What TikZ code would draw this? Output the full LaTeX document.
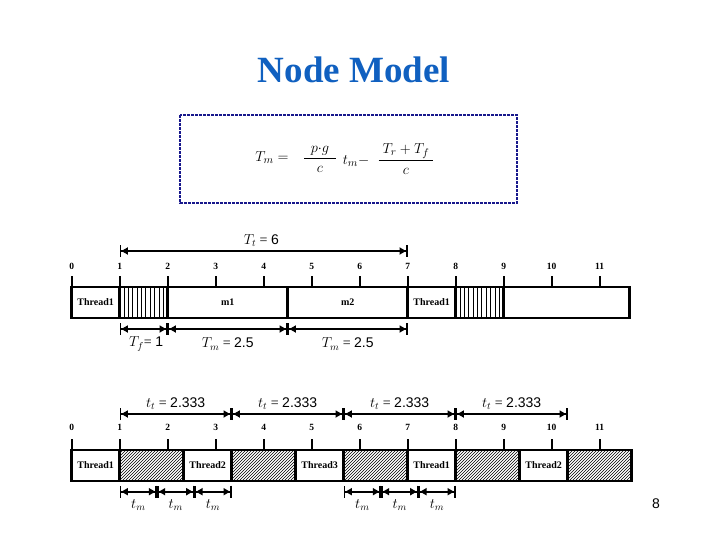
\documentclass[tikz,border=0pt]{standalone}
\usepackage{amsmath}
\usepackage{fontspec}
\setmainfont{Liberation Serif}
\newfontfamily\numfont{Liberation Sans}
\usetikzlibrary{arrows.meta,calc,patterns}

\definecolor{titleblue}{RGB}{16,96,192}
\definecolor{boxnavy}{RGB}{24,24,140}

\tikzset{
  barline/.style={line width=2.9pt},
  tickline/.style={line width=1.9pt},
  ticklabel/.style={font=\fontsize{9.5}{9.5}\selectfont\bfseries},
  celllabel/.style={font=\fontsize{10}{10}\selectfont\bfseries},
  dimline/.style={line width=1.7pt,
    {Bar[width=12pt]Stealth[length=6.5pt,width=7pt,inset=0pt]}-{Stealth[length=6.5pt,width=7pt,inset=0pt]Bar[width=12pt]}},
  dimlabel/.style={font=\fontsize{14}{16}\selectfont, inner sep=1pt},
  eqpart/.style={font=\fontsize{15.5}{18}\selectfont},
  hatchcell/.style={pattern=north east lines},
}

\begin{document}
\begin{tikzpicture}[x=1pt, y=-1pt]
\useasboundingbox (0,0) rectangle (720,540);

% title
\node[font=\fontsize{37}{40}\selectfont\bfseries, text=titleblue] (title) at (354,70) {Node Model};

% formula box
\draw[boxnavy, line width=2.8pt, dash pattern=on 2.6pt off 1.4pt] (180,115) rectangle (517,203);
\node[eqpart] (eqlhs) at (272,158) {$T_m =$};
\node[eqpart] (eqfa) at (320,159) {$\dfrac{\;\,p{\cdot}g\;\,}{c}$};
\node[eqpart] (eqtm) at (356,161) {$t_m -$};
\node[eqpart] (eqfb) at (406,159) {$\dfrac{\;T_r + T_f\;}{c}$};

% upper time line
\begin{scope}[xshift=71.7pt, x=48pt]
  \foreach \i in {0,...,11} {
    \node[ticklabel] (ua\i) at (\i,266) {\i};
    \draw[tickline] (\i,276) -- (\i,287);
  }
  \foreach \k in {1,...,10} {
    \draw[line width=0.8pt] ({1+\k/11},287) -- ({1+\k/11},318);
    \draw[line width=0.8pt] ({8+\k/11},287) -- ({8+\k/11},318);
  }
  \draw[barline] (0,287) rectangle (11.63,318);
  \foreach \d in {1,2,4.5,7,8,9}
    \draw[barline] (\d,287) -- (\d,318);
  \node[celllabel] (uth1) at (0.5,302.5) {Thread1};
  \node[celllabel] (um1) at (3.25,302.5) {m1};
  \node[celllabel] (um2) at (5.75,302.5) {m2};
  \node[celllabel] (uth2) at (7.5,302.5) {Thread1};

  % T_t over the top
  \coordinate (tt0) at (1,251);
  \coordinate (tt1) at (7,251);
  \draw[dimline] (tt0) -- (tt1);
  \node[dimlabel] (ttlab) at (3.95,241) {$T_t$ = {\numfont 6}};

  % T_f and T_m below
  \coordinate (uf0) at (1,329);
  \coordinate (uf1) at (2,329);
  \coordinate (uf2) at (4.5,329);
  \coordinate (uf3) at (7,329);
  \draw[dimline] (uf0) -- (uf1);
  \draw[dimline] (uf1) -- (uf2);
  \draw[dimline] (uf2) -- (uf3);
  \node[dimlabel] (tflab) at (1.55,344) {$T_f$= {\numfont 1}};
  \node[dimlabel] (tmlaba) at (3.25,344) {$T_m$ = {\numfont 2.5}};
  \node[dimlabel] (tmlabb) at (5.75,344) {$T_m$ = {\numfont 2.5}};
\end{scope}

% lower time line
\begin{scope}[xshift=71.7pt, x=48pt]
  \foreach \i in {0,...,11} {
    \node[ticklabel] (la\i) at (\i,427) {\i};
    \draw[tickline] (\i,439) -- (\i,450);
  }
  \foreach \a/\b in {1/{7/3}, {10/3}/{14/3}, {17/3}/7, 8/{28/3}, {31/3}/11.67}
    \fill[hatchcell] ({\a},450) rectangle ({\b},481);
  \draw[barline] (0,450) rectangle (11.67,481);
  \foreach \d in {1,7/3,10/3,14/3,17/3,7,8,28/3,31/3}
    \draw[barline] ({\d},450) -- ({\d},481);
  \node[celllabel] (lth1) at (0.5,465.5) {Thread1};
  \node[celllabel] (lth2) at ({17/6},465.5) {Thread2};
  \node[celllabel] (lth3) at ({31/6},465.5) {Thread3};
  \node[celllabel] (lth4) at (7.5,465.5) {Thread1};
  \node[celllabel] (lth5) at ({59/6},465.5) {Thread2};

  % t_t spans
  \foreach \n/\p in {0/1, 1/{10/3}, 2/{17/3}, 3/8, 4/{31/3}}
    \coordinate (lt\n) at ({\p},414);
  \foreach \n [evaluate=\n as \m using int(\n+1)] in {0,...,3} {
    \draw[dimline] (lt\n) -- (lt\m);
    \node[dimlabel] (ltlab\n) at ($(lt\n)!0.5!(lt\m)+(0,-10)$) {$t_t$ = {\numfont 2.333}};
  }

  % t_m spans
  \foreach \n/\p in {0/1, 1/{16/9}, 2/{23/9}, 3/{10/3}, 4/{17/3}, 5/{58/9}, 6/{65/9}, 7/8}
    \coordinate (lm\n) at ({\p},491.7);
  \foreach \n/\m in {0/1, 1/2, 2/3, 4/5, 5/6, 6/7} {
    \draw[dimline] (lm\n) -- (lm\m);
    \node[dimlabel] (lmlab\n) at ($(lm\n)!0.5!(lm\m)+(0,13)$) {$t_m$};
  }
\end{scope}

% page number
\node[font=\fontsize{14}{16}\selectfont\numfont] (pagenum) at (656,504) {8};
\end{tikzpicture}
\end{document}
